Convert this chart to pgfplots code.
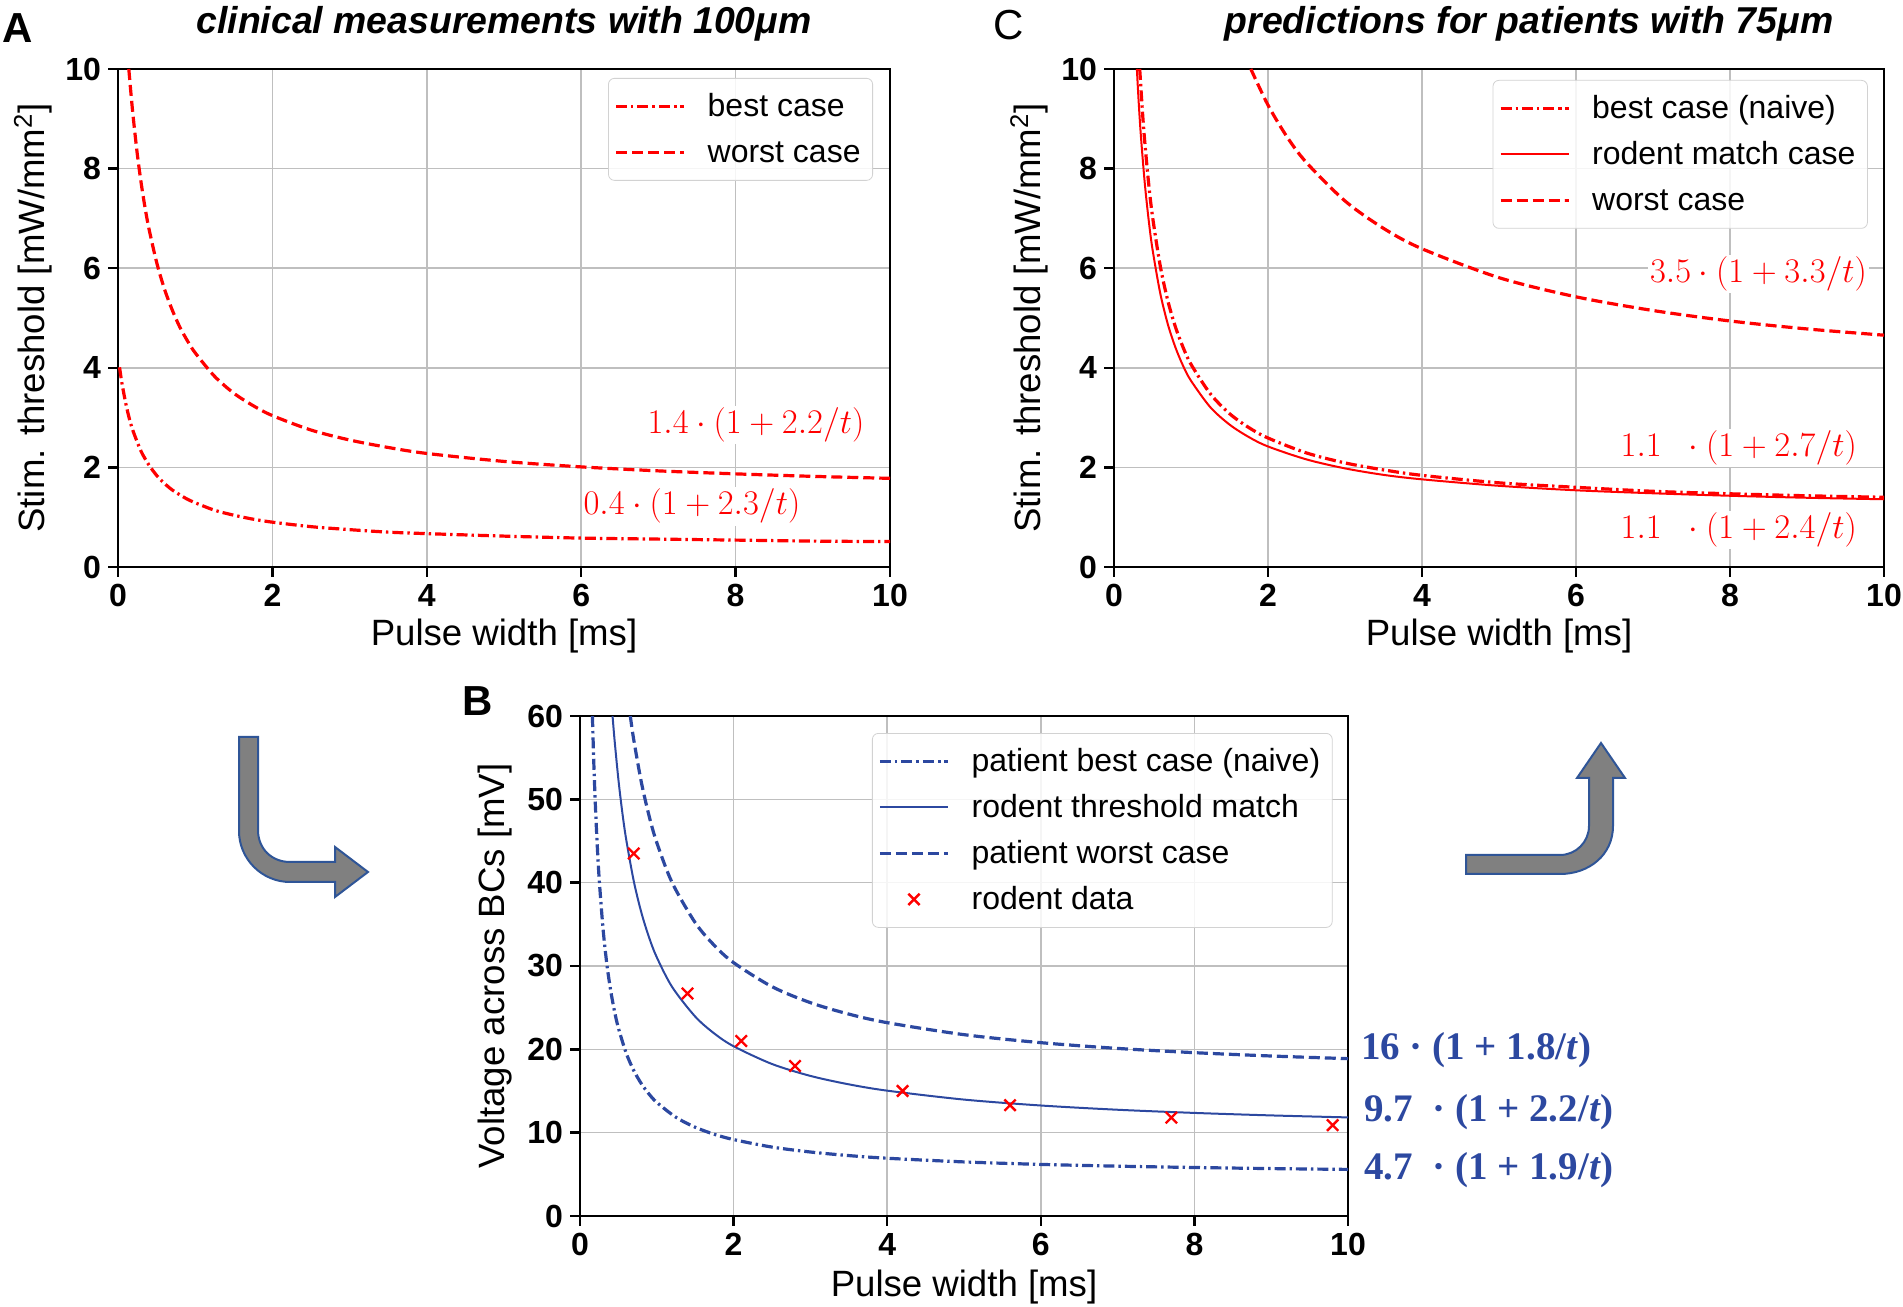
\documentclass[border=0pt]{standalone}
\usepackage[no-math]{fontspec}
\usepackage{pgfplots}
\pgfplotsset{compat=1.18}
\setmainfont{Liberation Sans}
\newfontfamily\frm{Liberation Serif}
\definecolor{bl}{RGB}{44,72,160}
\definecolor{arrowblue}{RGB}{47,85,151}
\definecolor{arrowgray}{RGB}{128,128,128}
\tikzset{formula/.style={fill=white, inner sep=1pt, font=\fontsize{17.5}{19}\selectfont},
  bformula/.style={inner sep=1pt, text=bl, font=\fontsize{19.5}{21}\selectfont\frm\bfseries}}
\pgfplotsset{
  myax/.style={
    scale only axis,
    tick align=outside, tick pos=left,
    major tick length=5pt,
    every tick/.style={black, line width=1.2pt},
    axis line style={line width=1.2pt},
    grid=major, major grid style={gray!50, line width=0.8pt},
    tick label style={font=\fontsize{16}{18}\selectfont\bfseries},
    /pgf/number format/assume math mode=true,
    label style={font=\fontsize{18.3}{20}\selectfont},
    legend style={font=\fontsize{16}{18}\selectfont, draw=gray!35, rounded corners=3pt,
      fill=white, fill opacity=0.85, text opacity=1, row sep=1pt, inner xsep=3pt, inner ysep=3pt,
      nodes={text depth=3pt, text height=13pt, inner sep=3pt},
      /tikz/every odd column/.append style={column sep=8pt}},
    legend cell align=left,
    legend image code/.code={\draw[mark repeat=2, mark phase=2, ##1] plot coordinates {(0pt,0pt) (17pt,0pt) (34pt,0pt)};},
    clip mode=individual,
  },
  dsh/.style={dash pattern=on 5.5pt off 2.5pt, line width=1.6pt},
  dshdot/.style={dash pattern=on 5.5pt off 2pt on 1.2pt off 2pt, line width=1.6pt},
}
\begin{document}
\begin{tikzpicture}
\useasboundingbox (0,0) rectangle (951.5pt,653.5pt);

% ---------------- Panel A ----------------
\begin{axis}[myax, at={(59pt,370pt)}, anchor=south west, width=386pt, height=249pt,
  xmin=0, xmax=10, ymin=0, ymax=10, xtick={0,2,...,10}, ytick={0,2,...,10},
  xlabel={Pulse width [ms]}, ylabel={Stim. threshold [mW/mm\textsuperscript{2}]},
  xlabel style={at={(rel axis cs:0.5,-0.1386)}, anchor=center},
  ylabel style={at={(rel axis cs:-0.110,0.5)}, anchor=center},
  legend style={at={(rel axis cs:0.978,0.982)}, anchor=north east}]
\addplot[red, dshdot, smooth] coordinates {
(0.02,4.01) (0.05,3.70) (0.1,3.29) (0.15,2.96) (0.2,2.71) (0.3,2.32) (0.4,2.05) (0.5,1.84)
(0.6,1.68) (0.7,1.55) (0.8,1.45) (0.9,1.36) (1.0,1.29) (1.25,1.14) (1.5,1.04) (1.75,0.96) (2,0.90) (2.5,0.81) (3,0.75)
(3.5,0.70) (4,0.67) (5,0.62) (6,0.58) (7,0.56) (8,0.54) (9,0.52) (10,0.51)};
\addlegendentry{best case}
\addplot[red, dsh, smooth] coordinates {
(0.14,10) (0.17,9.47) (0.2,8.99) (0.25,8.29) (0.3,7.71) (0.35,7.22) (0.4,6.80) (0.5,6.12) (0.6,5.59) (0.7,5.17)
(0.8,4.82) (0.9,4.54) (1.0,4.30) (1.25,3.83) (1.5,3.49) (1.75,3.24) (2,3.04) (2.5,2.75) (3,2.55) (3.5,2.40) (4,2.28)
(5,2.12) (6,2.01) (7,1.93) (8,1.87) (9,1.82) (10,1.78)};
\addlegendentry{worst case}
\node[formula, text=red, anchor=east] at (axis cs:9.70,2.85) {$1.4\cdot(1+2.2/t)$};
\node[formula, text=red, anchor=east] at (axis cs:8.87,1.22) {$0.4\cdot(1+2.3/t)$};
\end{axis}

% ---------------- Panel C ----------------
\begin{axis}[myax, at={(557pt,370pt)}, anchor=south west, width=385pt, height=249pt,
  xmin=0, xmax=10, ymin=0, ymax=10, xtick={0,2,...,10}, ytick={0,2,...,10},
  xlabel={Pulse width [ms]}, ylabel={Stim. threshold [mW/mm\textsuperscript{2}]},
  xlabel style={at={(rel axis cs:0.5,-0.1386)}, anchor=center},
  ylabel style={at={(rel axis cs:-0.110,0.5)}, anchor=center},
  legend style={at={(rel axis cs:0.979,0.978)}, anchor=north east}]
\addplot[red, dshdot, smooth] coordinates {
(0.334,10) (0.37,9.13) (0.4,8.53) (0.45,7.70) (0.5,7.04) (0.6,6.05) (0.7,5.34) (0.8,4.81) (0.9,4.40) (1,4.07) (1.25,3.48)
(1.5,3.08) (1.75,2.80) (2,2.59) (2.5,2.29) (3,2.09) (3.5,1.95) (4,1.84) (5,1.69) (6,1.60) (7,1.52) (8,1.47)
(9,1.43) (10,1.40)};
\addlegendentry{best case (naive)}
\addplot[red, line width=1pt, smooth] coordinates {
(0.297,10) (0.32,9.35) (0.35,8.64) (0.4,7.70) (0.45,6.97) (0.5,6.38) (0.6,5.50) (0.7,4.87) (0.8,4.40) (0.9,4.03) (1,3.74)
(1.25,3.21) (1.5,2.86) (1.75,2.61) (2,2.42) (2.5,2.16) (3,1.98) (3.5,1.85) (4,1.76) (5,1.63) (6,1.54) (7,1.48)
(8,1.43) (9,1.39) (10,1.36)};
\addlegendentry{rodent match case}
\addplot[red, dsh, smooth] coordinates {
(1.777,10) (2,9.275) (2.25,8.63) (2.5,8.12) (3,7.35) (3.5,6.80) (4,6.39) (5,5.81) (6,5.425) (7,5.15)
(8,4.94) (9,4.78) (10,4.655)};
\addlegendentry{worst case}
\node[formula, text=red, anchor=east] at (axis cs:9.81,5.88) {$3.5\cdot(1+3.3/t)$};
\node[formula, text=red, anchor=east] at (axis cs:9.68,2.39) {$1.1\ \ \cdot(1+2.7/t)$};
\node[formula, text=red, anchor=east] at (axis cs:9.68,0.74) {$1.1\ \ \cdot(1+2.4/t)$};
\end{axis}

% ---------------- Panel B ----------------
\begin{axis}[myax, at={(290pt,45.5pt)}, anchor=south west, width=384pt, height=250pt,
  xmin=0, xmax=10, ymin=0, ymax=60, xtick={0,2,...,10}, ytick={0,10,...,60},
  xlabel={Pulse width [ms]}, ylabel={Voltage across BCs [mV]},
  xlabel style={at={(rel axis cs:0.5,-0.142)}, anchor=center},
  ylabel style={at={(rel axis cs:-0.111,0.5)}, anchor=center},
  legend style={at={(rel axis cs:0.980,0.966)}, anchor=north east}]
\addplot[bl, dshdot, smooth] coordinates {
(0.1615,60) (0.18,54.3) (0.2,49.35) (0.225,44.4) (0.25,40.42) (0.3,34.47) (0.35,30.2) (0.4,27.03) (0.45,24.54) (0.5,22.56)
(0.6,19.58) (0.7,17.46) (0.8,15.86) (0.9,14.62) (1.0,13.63) (1.25,11.84) (1.5,10.65) (1.75,9.80) (2,9.17) (2.5,8.27)
(3,7.68) (3.5,7.25) (4,6.93) (5,6.49) (6,6.19) (7,5.98) (8,5.82) (9,5.69) (10,5.59)};
\addlegendentry{patient best case (naive)}
\addplot[bl, line width=1pt, smooth] coordinates {
(0.424,60) (0.45,57.12) (0.5,52.38) (0.55,48.50) (0.6,45.27) (0.7,40.19) (0.8,36.38) (0.9,33.41) (1.0,31.04) (1.2,27.48)
(1.5,23.93) (1.75,21.89) (2,20.37) (2.5,18.24) (3,16.81) (3.5,15.80) (4,15.04) (5,13.97) (6,13.26) (7,12.75)
(8,12.37) (9,12.07) (10,11.83)};
\addlegendentry{rodent threshold match}
\addplot[bl, dsh, smooth] coordinates {
(0.655,60) (0.7,57.14) (0.8,52) (0.9,48) (1.0,44.8) (1.2,40) (1.5,35.2) (1.75,32.46) (2,30.4) (2.5,27.52)
(3,25.6) (3.5,24.23) (4,23.2) (5,21.76) (6,20.8) (7,20.11) (8,19.6) (9,19.2) (10,18.88)};
\addlegendentry{patient worst case}
\addplot[red, only marks, mark=x, mark size=4pt, line width=1.2pt] coordinates {
(0.7,43.5) (1.4,26.7) (2.1,21.0) (2.8,18.0) (4.2,15.0) (5.6,13.3) (7.7,11.8) (9.8,10.9)};
\addlegendentry{rodent data}
\node[bformula, anchor=west] at (axis cs:10.14,19.9) {16 · (1 + 1.8/\textit{t})};
\node[bformula, anchor=west] at (axis cs:10.18,12.5) {9.7\ \ · (1 + 2.2/\textit{t})};
\node[bformula, anchor=west] at (axis cs:10.18,5.5) {4.7\ \ · (1 + 1.9/\textit{t})};
\end{axis}

% ---------------- titles, letters, arrows (pixel coordinates) ----------------
\begin{scope}[shift={(0pt,653.5pt)}, x=0.5pt, y=-0.5pt]
\node[font=\fontsize{18.7}{20}\selectfont\bfseries\itshape] at (504,24) {clinical measurements with 100μm};
\node[font=\fontsize{18.7}{20}\selectfont\bfseries\itshape] at (1529,24) {predictions for patients with 75μm};
\node[font=\fontsize{21}{22}\selectfont\bfseries] at (18,28) {A};
\node[font=\fontsize{21}{22}\selectfont] at (1009,25) {C};
\node[font=\fontsize{21}{22}\selectfont\bfseries] at (478,701) {B};
\filldraw[fill=arrowgray, draw=arrowblue, line width=1pt]
  (239,737) -- (258,737) -- (258,830) .. controls (258,849) and (272,862) .. (290,862)
  -- (335,862) -- (335,847) -- (368,872) -- (335,897) -- (335,882) -- (290,882)
  .. controls (262,882) and (239,859) .. (239,831) -- cycle;
\filldraw[fill=arrowgray, draw=arrowblue, line width=1pt]
  (1466,855) -- (1560,855) .. controls (1576,855) and (1589,842) .. (1589,826)
  -- (1589,778) -- (1577,778) -- (1601,743) -- (1625,778) -- (1613,778) -- (1613,826)
  .. controls (1613,855) and (1589,874) .. (1560,874) -- (1466,874) -- cycle;
\end{scope}
\end{tikzpicture}
\end{document}
